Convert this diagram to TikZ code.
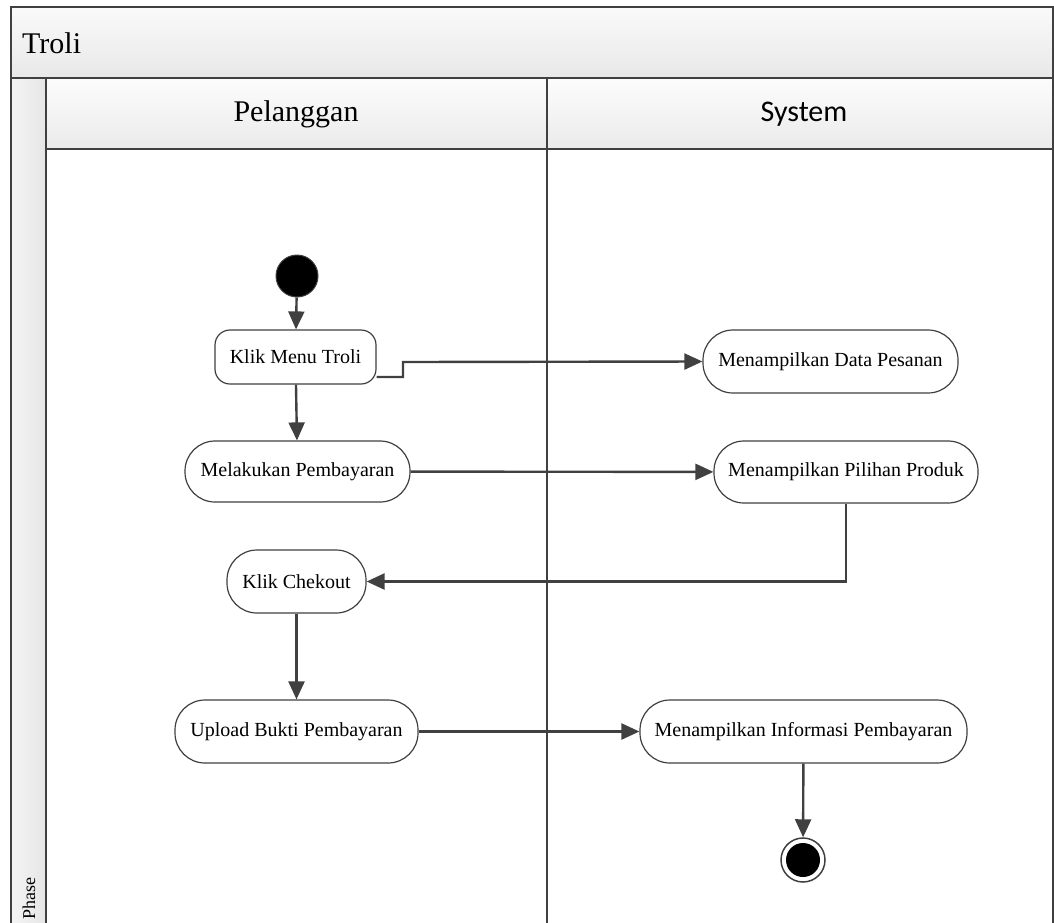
\documentclass[tikz,border=0pt]{standalone}
\usepackage{fontspec}
\setmainfont{Liberation Serif}
\newfontfamily\tnr{Liberation Serif}
\newfontfamily\calfont{Carlito}
\usetikzlibrary{arrows.meta}
\definecolor{ln}{HTML}{404040}
\begin{document}
\begin{tikzpicture}[x=1pt,y=-1pt,
  act/.style={draw=ln,line width=1.2pt,fill=white,rectangle,rounded corners=30pt,minimum height=63pt,inner sep=0pt,font=\tnr\fontsize{20}{22}\selectfont},
  flow/.style={draw=ln,line width=2.4pt,-{Triangle[length=18pt,width=16pt]}},
  frame/.style={draw=ln,line width=2pt}]
\useasboundingbox (0,0) rectangle (1054,922);
\begin{scope}
\clip (0,0) rectangle (1054,922);
\shade[top color=white!98!black,bottom color=white!91!black] (11,7) rectangle (1060,78);
\shade[top color=white!99!black,bottom color=white!92!black] (46,78) rectangle (1060,149);
\shade[left color=white!96!black,right color=white!90!black] (11,78) rectangle (46,930);
\draw[frame] (11,930) -- (11,7) -- (1053,7) -- (1053,930);
\draw[frame] (11,78) -- (1053,78);
\draw[frame] (46,78) -- (46,930);
\draw[frame] (46,149) -- (1053,149);
\draw[frame] (547,78) -- (547,930);
\end{scope}
\node[anchor=west,inner sep=0pt,font=\tnr\fontsize{30}{32}\selectfont] (title) at (22,43) {Troli};
\node[font=\tnr\fontsize{30}{32}\selectfont] (lane1) at (296,114) {Pelanggan};
\node[font=\calfont\fontsize{30}{32}\selectfont] (lane2) at (804,114) {System};
\node[rotate=90,anchor=west,inner sep=0pt,font=\tnr\fontsize{18}{20}\selectfont] (phase) at (29,920) {Phase};
% nodes
\node[circle,fill=black,draw=ln,line width=1pt,minimum size=42pt,inner sep=0pt] (start) at (297,276) {};
\node[act,rounded corners=15pt,minimum width=161pt,minimum height=54pt] (kmt) at (295.5,357) {Klik Menu Troli};
\node[act,minimum width=255pt] (dp) at (830.5,361.5) {Menampilkan Data Pesanan};
\node[act,minimum width=225pt,minimum height=61pt] (mp) at (297.5,471.5) {Melakukan Pembayaran};
\node[act,minimum width=264pt,minimum height=62pt] (pp) at (846,472) {Menampilkan Pilihan Produk};
\node[act,minimum width=139pt] (kc) at (296.5,581.5) {Klik Chekout};
\node[act,minimum width=243pt] (ub) at (296.5,731.5) {Upload Bukti Pembayaran};
\node[act,minimum width=327pt] (inf) at (803.5,731.5) {Menampilkan Informasi Pembayaran};
\node[circle,draw=ln,line width=1.5pt,fill=white,minimum size=44pt,inner sep=0pt] (end) at (803,860) {};
\node[circle,fill=black,minimum size=34pt,inner sep=0pt] (endin) at (803,860) {};
% connectors
\coordinate (k1) at ([yshift=-20pt]kmt.east);
\coordinate (k2) at (403,377);
\coordinate (k3) at (403,362);
\draw[flow] (start) -- (kmt);
\draw[flow] (k1) -- (k2) -- (k3) -- (dp.west);
\draw[flow] (kmt) -- (mp);
\draw[flow] (mp) -- (pp);
\draw[flow] (pp.south) |- (kc.east);
\draw[flow] (kc) -- (ub);
\draw[flow] (ub) -- (inf);
\draw[flow] (inf) -- (end);
\end{tikzpicture}
\end{document}
